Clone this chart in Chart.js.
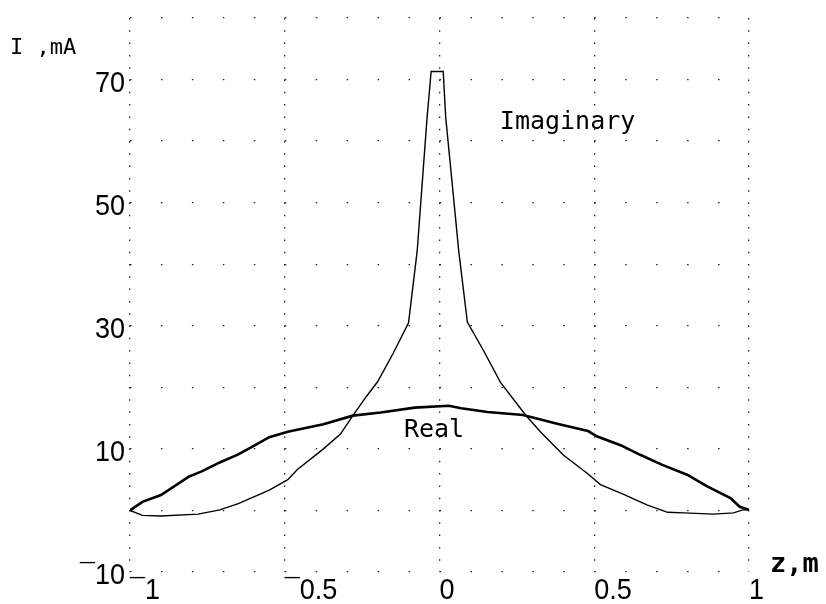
<!DOCTYPE html>
<html lang="en">
<head>
<meta charset="UTF-8" />
<title>Current distribution along the antenna</title>
<script src="https://cdn.jsdelivr.net/npm/chart.js"></script>
<style>
  html, body { margin: 0; padding: 0; background: #fff; }
  #wrap { width: 826px; height: 604px; }
</style>
</head>
<body>
<div id="wrap"><canvas id="chart" width="826" height="604"></canvas></div>
<script>
// real part of the current, mA, against z, m
const zReal = [-1, -0.96, -0.9, -0.81, -0.77, -0.71, -0.65, -0.6, -0.55, -0.49, -0.46, -0.375, -0.28, -0.19, -0.08,
               0.03, 0.07, 0.155, 0.27, 0.38, 0.48, 0.51, 0.585, 0.65, 0.72, 0.8, 0.865, 0.94, 0.97, 1];
const iReal = [0, 1.4, 2.5, 5.5, 6.3, 7.8, 9.1, 10.5, 11.9, 12.8, 13.1, 14.0, 15.4, 15.9, 16.7,
               17.0, 16.6, 16.0, 15.5, 14.1, 12.9, 12.0, 10.6, 9.0, 7.4, 5.8, 3.9, 2.0, 0.6, 0.1];

// imaginary part, with the sharp peak at the feed point
const zImag = [-1, -0.96, -0.9, -0.78, -0.71, -0.65, -0.6, -0.55, -0.49, -0.46, -0.375, -0.32, -0.28, -0.235, -0.2,
               -0.15, -0.1, -0.072, -0.056, -0.04, -0.027, 0.012, 0.02, 0.041, 0.062, 0.09, 0.143, 0.197, 0.278,
               0.326, 0.4, 0.478, 0.52, 0.595, 0.67, 0.737, 0.79, 0.885, 0.95, 0.98, 1];
const iImag = [0, -0.8, -0.9, -0.6, 0.1, 1.1, 2.2, 3.3, 5.0, 6.6, 10.0, 12.4, 15.4, 18.6, 20.9,
               25.5, 30.5, 42.2, 53.1, 63.9, 71.3, 71.3, 63.9, 53.1, 42.2, 30.6, 25.9, 20.8, 15.5,
               12.8, 9.0, 6.0, 4.2, 2.6, 0.9, -0.3, -0.4, -0.6, -0.4, 0.1, 0.1];

const zTicks = [-1, -0.5, 0, 0.5, 1];
const iTicks = [-10, 10, 30, 50, 70];

// APL style high minus
function fmt(v) {
    return v < 0 ? "\u00AF" + Math.abs(v) : String(v);
}

function pts(xs, ys) {
    return xs.map((x, i) => ({ x: x, y: ys[i] }));
}

// squeezed text, the plotter font is narrower than any installed one
function narrowText(ctx, text, px, py, align) {
    ctx.save();
    ctx.translate(px, py);
    ctx.scale(0.9, 1);
    ctx.textAlign = align;
    ctx.fillText(text, 0, 0);
    ctx.restore();
}

const tickText = {
    id: "tickText",
    afterDraw(chart) {
        const { ctx, scales: { x, y } } = chart;
        ctx.save();
        ctx.fillStyle = "#000";
        ctx.textBaseline = "alphabetic";
        ctx.font = "30px 'Liberation Sans', sans-serif";
        iTicks.forEach((v) => narrowText(ctx, fmt(v), x.left - 5, y.getPixelForValue(v) + 12, "right"));
        zTicks.forEach((v) => narrowText(ctx, fmt(v), x.getPixelForValue(v), y.bottom + 27, "left"));
        ctx.restore();
    },
};

const notes = {
    id: "notes",
    afterDatasetsDraw(chart) {
        const { ctx, scales: { x, y } } = chart;
        ctx.save();
        ctx.fillStyle = "#000";
        ctx.textBaseline = "alphabetic";
        ctx.font = "25px 'DejaVu Sans Mono'";
        ctx.fillText("Imaginary", x.getPixelForValue(0.195), y.getPixelForValue(62));
        ctx.fillText("Real", x.getPixelForValue(-0.115), y.getPixelForValue(12));
        ctx.font = "22px 'DejaVu Sans Mono'";
        ctx.fillText("I ,mA", 10, 54);
        ctx.font = "bold 27px 'DejaVu Sans Mono'";
        ctx.fillText("z,m", x.right + 21, y.bottom);
        ctx.restore();
    },
};

new Chart(document.getElementById("chart"), {
    type: "scatter",
    data: {
        datasets: [
            {
                label: "Real",
                data: pts(zReal, iReal),
                showLine: true,
                borderColor: "#000",
                borderWidth: 2.6,
                pointRadius: 0,
                tension: 0,
            },
            {
                label: "Imaginary",
                data: pts(zImag, iImag),
                showLine: true,
                borderColor: "#000",
                borderWidth: 1.4,
                pointRadius: 0,
                tension: 0,
            },
        ],
    },
    options: {
        responsive: false,
        animation: false,
        layout: { padding: { top: 18, right: 77, left: 0, bottom: 0 } },
        plugins: { legend: { display: false }, tooltip: { enabled: false } },
        scales: {
            x: {
                type: "linear",
                min: -1,
                max: 1,
                afterFit: (s) => { s.height = 32; },
                afterBuildTicks: (s) => { s.ticks = zTicks.map((v) => ({ value: v })); },
                grid: { color: "#222", lineWidth: 1.3, drawTicks: false },
                border: { display: false, dash: [1.5, 10.8] },
                ticks: { display: false },
            },
            y: {
                min: -10,
                max: 80,
                afterFit: (s) => { s.width = 130; },
                ticks: { display: false, stepSize: 10 },
                grid: { color: "#222", lineWidth: 1.3, drawTicks: false },
                border: { display: false, dash: [1.5, 29.45] },
            },
        },
    },
    plugins: [notes, tickText],
});
</script>
</body>
</html>
